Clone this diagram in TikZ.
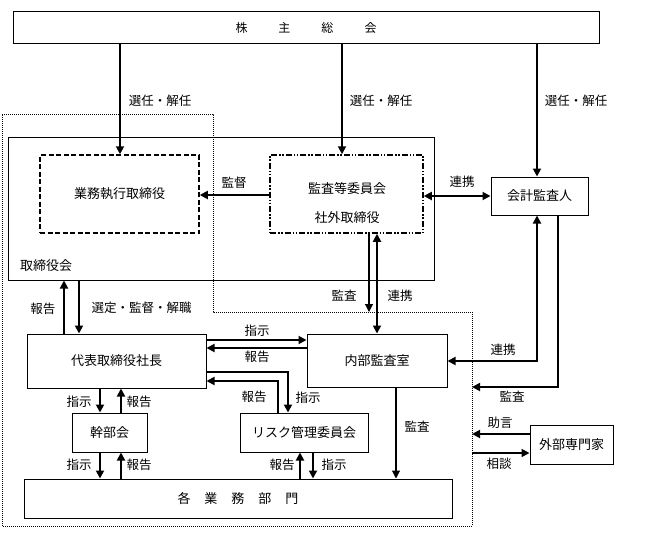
\documentclass[tikz,border=0pt]{standalone}
\usepackage{fontspec}
\setmainfont{Noto Sans CJK JP}
\usepackage{tikz}
\usetikzlibrary{arrows.meta}
\tikzset{box/.style={draw,line width=1pt,inner sep=0pt,font=\fontsize{13}{15}\selectfont}}
\tikzset{lbl/.style={inner sep=0pt,font=\fontsize{12.5}{14}\selectfont}}
\tikzset{arr/.style={line width=1.8pt,-{Triangle[length=8pt,width=8pt]}}}
\tikzset{darr/.style={line width=1.8pt,{Triangle[length=8pt,width=8pt]}-{Triangle[length=8pt,width=8pt]}}}
\tikzset{tarr/.style={line width=1.1pt,-{Triangle[length=8pt,width=8pt]}}}
\tikzset{tline/.style={line width=1.1pt}}

\begin{document}
\begin{tikzpicture}[x=1pt,y=-1pt]
  \useasboundingbox (0,0) rectangle (645,543);
  \coordinate (c1) at (2,114);
  \coordinate (c2) at (213,114);
  \coordinate (c3) at (213,312);
  \coordinate (c4) at (472,312);
  \coordinate (c5) at (472,526);
  \coordinate (c6) at (2,526);
  \draw[densely dotted,line width=1pt] (c1) -- (c2) -- (c3) -- (c4) -- (c5) -- (c6) -- cycle;

  \node[box,minimum width=586pt,minimum height=32pt,font=\fontsize{12}{14}\selectfont] (soukai) at (306,28) {株\hspace{31pt}主\hspace{31pt}総\hspace{31pt}会};
  \node[box,minimum width=426pt,minimum height=143pt] (board) at (221,208.5) {};
  \node[lbl,font=\fontsize{13}{15}\selectfont] (boardname) at (46,266) {取締役会};
  \node[box,line width=1.5pt,dash pattern=on 5pt off 2.5pt,minimum width=159pt,minimum height=78pt] (gyomu) at (119.5,194) {業務執行取締役};
  \node[box,line width=1.5pt,dash pattern=on 6pt off 2pt on 1.5pt off 1.5pt on 1.5pt off 2pt,minimum width=153pt,minimum height=78pt] (kansa) at (346.5,194) {};
  \node[lbl,font=\fontsize{13}{15}\selectfont] (kansa1) at (347,189) {監査等委員会};
  \node[lbl,font=\fontsize{13}{15}\selectfont] (kansa2) at (347,218) {社外取締役};
  \node[box,minimum width=97pt,minimum height=38pt] (kaikei) at (539.5,196) {会計監査人};
  \node[box,minimum width=179pt,minimum height=54pt] (shacho) at (116.5,361) {代表取締役社長};
  \node[box,minimum width=140pt,minimum height=53pt] (naibu) at (377,360.5) {内部監査室};
  \node[box,minimum width=128pt,minimum height=39pt] (risk) at (304,432.5) {リスク管理委員会};
  \node[box,minimum width=75pt,minimum height=39pt] (kanbu) at (109.5,432.5) {幹部会};
  \node[box,minimum width=428pt,minimum height=39pt] (bumon) at (238,498.5) {各\hspace{14pt}業\hspace{14pt}務\hspace{14pt}部\hspace{14pt}門};
  \node[box,minimum width=83pt,minimum height=39pt] (gaibu) at (571.5,444.5) {外部専門家};

  \draw[arr] (soukai.south -| 120,0) -- (gyomu.north -| 120,0);
  \draw[arr] (soukai.south -| 342,0) -- (kansa.north -| 342,0);
  \draw[arr] (soukai.south -| 537,0) -- (kaikei.north -| 537,0);
  \draw[arr] (kansa.west |- 0,195) -- (gyomu.east |- 0,195);
  \draw[darr] (kansa.east |- 0,196) -- (kaikei.west |- 0,196);
  \draw[tarr] (kansa.south -| 369,0) -- (c3 -| 369,0);
  \draw[darr] (kansa.south -| 377,0) -- (naibu.north -| 377,0);
  \draw[arr] (shacho.north -| 64,0) -- (board.south -| 64,0);
  \draw[arr] (board.south -| 79,0) -- (shacho.north -| 79,0);
  \draw[arr] (shacho.east |- 0,340) -- (naibu.west |- 0,340);
  \draw[arr] (naibu.west |- 0,348) -- (shacho.east |- 0,348);
  \draw[tline] (shacho.east |- 0,372) -- (288,372);
  \draw[arr] (288,371.1) -- (risk.north -| 288,0);
  \draw[tline] (risk.north -| 278,0) -- (278,381);
  \draw[arr] (278.55,381) -- (shacho.east |- 0,381);
  \draw[arr] (shacho.south -| 100,0) -- (kanbu.north -| 100,0);
  \draw[arr] (kanbu.north -| 121,0) -- (shacho.south -| 121,0);
  \draw[arr] (kanbu.south -| 100,0) -- (bumon.north -| 100,0);
  \draw[arr] (bumon.north -| 121,0) -- (kanbu.south -| 121,0);
  \draw[arr] (bumon.north -| 300,0) -- (risk.south -| 300,0);
  \draw[arr] (risk.south -| 313,0) -- (bumon.north -| 313,0);
  \draw[tarr] (naibu.south -| 396,0) -- (bumon.north -| 396,0);
  \draw[darr] (naibu.east |- 0,361) -| (kaikei.south -| 537,0);
  \draw[tline] (kaikei.south -| 558,0) -- (558,387);
  \draw[arr] (558.55,387) -- (c4 |- 0,387);
  \draw[arr] (gaibu.west |- 0,434) -- (c4 |- 0,434);
  \draw[arr] (c4 |- 0,453) -- (gaibu.west |- 0,453);

  \node[lbl] (sennin1) at (160,101) {選任・解任};
  \node[lbl] (sennin2) at (381,101) {選任・解任};
  \node[lbl] (sennin3) at (576,101) {選任・解任};
  \node[lbl] (kantoku) at (234,183) {監督};
  \node[lbl] (renkei1) at (462,182) {連携};
  \node[lbl] (kansa3) at (344,296) {監査};
  \node[lbl] (renkei2) at (400,296) {連携};
  \node[lbl] (hokoku1) at (43,309) {報告};
  \node[lbl] (sentei) at (141.5,308) {選定・監督・解職};
  \node[lbl] (shiji1) at (257,331) {指示};
  \node[lbl] (hokoku2) at (257,357) {報告};
  \node[lbl] (hokoku3) at (254,397) {報告};
  \node[lbl] (shiji2) at (308,398) {指示};
  \node[lbl] (shiji3) at (79,402) {指示};
  \node[lbl] (hokoku4) at (139,402) {報告};
  \node[lbl] (shiji4) at (79,465) {指示};
  \node[lbl] (hokoku5) at (139,465) {報告};
  \node[lbl] (hokoku6) at (282,465) {報告};
  \node[lbl] (shiji5) at (334,465) {指示};
  \node[lbl] (kansa4) at (417,427) {監査};
  \node[lbl] (renkei3) at (503,350) {連携};
  \node[lbl] (kansa5) at (512,397) {監査};
  \node[lbl] (jogen) at (500,423) {助言};
  \node[lbl] (sodan) at (499,464) {相談};
\end{tikzpicture}
\end{document}
